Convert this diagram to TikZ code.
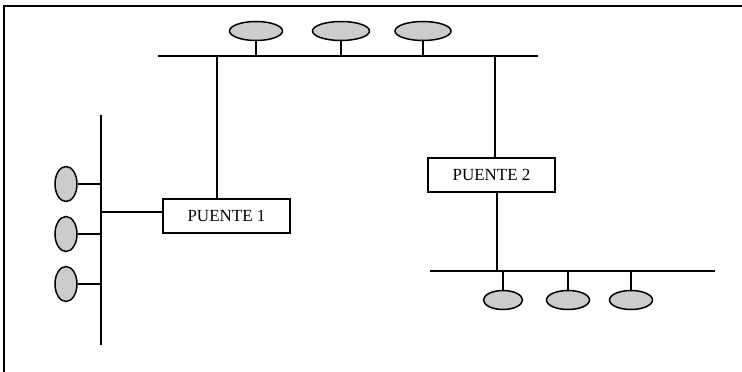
\documentclass[tikz,border=0pt]{standalone}
\usepackage{fontspec}
\setmainfont{Liberation Serif}
\usetikzlibrary{shapes.geometric}

\begin{document}
\begin{tikzpicture}[x=1pt,y=-1pt,
  host/.style={ellipse, draw, fill=gray!40, inner sep=0pt, line width=1.5pt},
  bridge/.style={draw, rectangle, minimum width=127pt, minimum height=34pt,
    font=\fontsize{17}{20}\selectfont, line width=1.3pt},
  wire/.style={line width=1.5pt}]
  \useasboundingbox (0,0) rectangle (742,372);

  % Frame (top and left only)
  \draw[line width=1.8pt] (742,6) -- (4,6) -- (4,372);

  % Top segment
  \coordinate (topL) at (158,56);
  \coordinate (topR) at (538,56);
  \draw[wire] (topL) -- (topR);
  \node[host, minimum width=53pt, minimum height=19pt] (t1) at (256,31) {};
  \node[host, minimum width=57pt, minimum height=19pt] (t2) at (341,31) {};
  \node[host, minimum width=56pt, minimum height=19pt] (t3) at (423,31) {};
  \draw[wire] (t1.south) -- (t1.south |- topL);
  \draw[wire] (t2.south) -- (t2.south |- topL);
  \draw[wire] (t3.south) -- (t3.south |- topL);

  % Left segment
  \coordinate (leftT) at (101,115);
  \coordinate (leftB) at (101,345);
  \draw[wire] (leftT) -- (leftB);
  \node[host, minimum width=22pt, minimum height=35pt] (l1) at (66,184) {};
  \node[host, minimum width=22pt, minimum height=35pt] (l2) at (66,234) {};
  \node[host, minimum width=22pt, minimum height=35pt] (l3) at (66,284) {};
  \draw[wire] (l1.east) -- (l1.east -| leftT);
  \draw[wire] (l2.east) -- (l2.east -| leftT);
  \draw[wire] (l3.east) -- (l3.east -| leftT);

  % Bottom segment
  \coordinate (botL) at (430,271);
  \coordinate (botR) at (715,271);
  \draw[wire] (botL) -- (botR);
  \node[host, minimum width=39pt, minimum height=19pt] (b1) at (503,300) {};
  \node[host, minimum width=43pt, minimum height=19pt] (b2) at (568,300) {};
  \node[host, minimum width=43pt, minimum height=19pt] (b3) at (631,300) {};
  \draw[wire] (b1.north) -- (b1.north |- botL);
  \draw[wire] (b2.north) -- (b2.north |- botL);
  \draw[wire] (b3.north) -- (b3.north |- botL);

  % Bridges
  \node[bridge] (p1) at (226.5,216) {PUENTE 1};
  \node[bridge] (p2) at (491.5,175) {PUENTE 2};
  \coordinate (p1in) at (101,212);
  \draw[wire] (p1in) -- (p1in -| p1.west);
  \draw[wire] (p1.north -| 217,0) -- (topL -| 217,0);
  \draw[wire] (p2.north -| 495,0) -- (topL -| 495,0);
  \draw[wire] (p2.south -| 497,0) -- (botL -| 497,0);
\end{tikzpicture}
\end{document}
